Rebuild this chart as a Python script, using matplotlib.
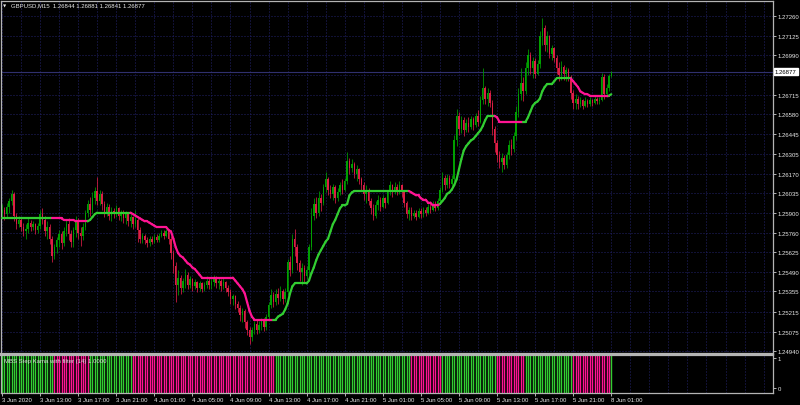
import matplotlib
matplotlib.use("Agg")
import matplotlib.pyplot as plt
import numpy as np
from matplotlib.collections import LineCollection

plt.rcParams['font.family'] = ['Liberation Sans', 'DejaVu Sans']

symbol_title = "GBPUSD,M15  1.26844 1.26881 1.26841 1.26877"
indicator_title = "MBS Step Kama with filter (14) 1.0000"
first_open = 1.2590
last_price = 1.26877

# M15 bars from 3 Jun 2020 09:00 to 8 Jun 01:00
close = [
    1.2592, 1.2589, 1.2594, 1.2598, 1.2603, 1.2588, 1.2582, 1.2585, 1.2580, 1.2577, 1.2579, 1.2583, 1.2580, 1.2582, 1.2578, 1.2581,
    1.2589, 1.2585, 1.2577, 1.2580, 1.2572, 1.2560, 1.2566, 1.2571, 1.2575, 1.2569, 1.2577, 1.2582, 1.2575, 1.2570, 1.2578, 1.2585,
    1.2576, 1.2574, 1.2580, 1.2590, 1.2596, 1.2592, 1.2600, 1.2605, 1.2598, 1.2603, 1.2596, 1.2590, 1.2594, 1.2588, 1.2591, 1.2589,
    1.2593, 1.2588, 1.2590, 1.2586, 1.2589, 1.2584, 1.2587, 1.2582, 1.2585, 1.2578, 1.2572, 1.2574, 1.2571, 1.2569, 1.2572, 1.2570,
    1.2573, 1.2571, 1.2574, 1.2576, 1.2574, 1.2577, 1.2572, 1.2562, 1.2553, 1.2540, 1.2545, 1.2538, 1.2543, 1.2547, 1.2540, 1.2544,
    1.2539, 1.2542, 1.2538, 1.2541, 1.2537, 1.2540, 1.2543, 1.2540, 1.2542, 1.2545, 1.2541, 1.2543, 1.2539, 1.2542, 1.2538, 1.2535,
    1.2530, 1.2532, 1.2527, 1.2524, 1.2519, 1.2522, 1.2514, 1.2509, 1.2504, 1.2509, 1.2513, 1.2509, 1.2512, 1.2515, 1.2511, 1.2518,
    1.2526, 1.2533, 1.2528, 1.2534, 1.2531, 1.2536, 1.2530, 1.2535, 1.2556, 1.2550, 1.2572, 1.2566, 1.2555, 1.2549, 1.2552, 1.2546,
    1.2550, 1.2566, 1.2588, 1.2596, 1.2590, 1.2600, 1.2597, 1.2608, 1.2613, 1.2606, 1.2603, 1.2608, 1.2600, 1.2604, 1.2609, 1.2606,
    1.2612, 1.2626, 1.2621, 1.2624, 1.2617, 1.2620, 1.2613, 1.2609, 1.2603, 1.2606, 1.2598, 1.2593, 1.2588, 1.2595, 1.2599, 1.2594,
    1.2600, 1.2597, 1.2604, 1.2609, 1.2604, 1.2608, 1.2605, 1.2609, 1.2604, 1.2597, 1.2589, 1.2592, 1.2588, 1.2590, 1.2587, 1.2591,
    1.2589, 1.2592, 1.2590, 1.2594, 1.2592, 1.2596, 1.2593, 1.2598, 1.2606, 1.2614, 1.2609, 1.2614, 1.2610, 1.2613, 1.2640, 1.2657,
    1.2648, 1.2654, 1.2647, 1.2652, 1.2649, 1.2655, 1.2651, 1.2657, 1.2653, 1.2668, 1.2676, 1.2669, 1.2673, 1.2666, 1.2648, 1.2638,
    1.2630, 1.2625, 1.2628, 1.2623, 1.2630, 1.2637, 1.2634, 1.2643, 1.2660, 1.2672, 1.2680, 1.2674, 1.2690, 1.2699, 1.2690, 1.2695,
    1.2686, 1.2693, 1.2712, 1.2718, 1.2706, 1.2712, 1.2700, 1.2704, 1.2697, 1.2690, 1.2685, 1.2691, 1.2686, 1.2689, 1.2684, 1.2673,
    1.2666, 1.2669, 1.2665, 1.2668, 1.2664, 1.2667, 1.2665, 1.2668, 1.2666, 1.2669, 1.2667, 1.2668, 1.2684, 1.2672, 1.2676, 1.26844,
    1.26877,
]
high = [
    1.2596, 1.2594, 1.2597, 1.2600, 1.2606, 1.2604, 1.2590, 1.2588, 1.2587, 1.2583, 1.2582, 1.2586, 1.2585, 1.2584, 1.2583, 1.2583,
    1.2592, 1.2593, 1.2588, 1.2584, 1.2582, 1.2574, 1.2568, 1.2573, 1.2578, 1.2577, 1.2580, 1.2585, 1.2586, 1.2578, 1.2580, 1.2588,
    1.2586, 1.2580, 1.2583, 1.2592, 1.2599, 1.2601, 1.2604, 1.2608, 1.2615, 1.2606, 1.2605, 1.2598, 1.2597, 1.2596, 1.2594, 1.2593,
    1.2595, 1.2594, 1.2592, 1.2592, 1.2591, 1.2590, 1.2589, 1.2588, 1.2592, 1.2586, 1.2580, 1.2576, 1.2575, 1.2573, 1.2574, 1.2574,
    1.2575, 1.2575, 1.2576, 1.2578, 1.2578, 1.2579, 1.2578, 1.2574, 1.2564, 1.2556, 1.2550, 1.2547, 1.2545, 1.2551, 1.2549, 1.2546,
    1.2545, 1.2544, 1.2543, 1.2543, 1.2542, 1.2542, 1.2546, 1.2545, 1.2544, 1.2547, 1.2546, 1.2545, 1.2544, 1.2545, 1.2543, 1.2540,
    1.2537, 1.2534, 1.2533, 1.2529, 1.2526, 1.2524, 1.2523, 1.2516, 1.2511, 1.2511, 1.2515, 1.2516, 1.2515, 1.2517, 1.2517, 1.2520,
    1.2528, 1.2537, 1.2535, 1.2537, 1.2538, 1.2539, 1.2537, 1.2538, 1.2558, 1.2560, 1.2575, 1.2579, 1.2568, 1.2557, 1.2555, 1.2554,
    1.2553, 1.2568, 1.2593, 1.2600, 1.2601, 1.2605, 1.2603, 1.2610, 1.2618, 1.2615, 1.2609, 1.2610, 1.2609, 1.2607, 1.2611, 1.2613,
    1.2614, 1.2632, 1.2628, 1.2627, 1.2625, 1.2623, 1.2621, 1.2615, 1.2611, 1.2609, 1.2607, 1.2600, 1.2596, 1.2598, 1.2602, 1.2601,
    1.2602, 1.2601, 1.2606, 1.2612, 1.2610, 1.2611, 1.2610, 1.2612, 1.2610, 1.2605, 1.2598, 1.2594, 1.2594, 1.2592, 1.2592, 1.2593,
    1.2593, 1.2594, 1.2594, 1.2596, 1.2597, 1.2598, 1.2598, 1.2600, 1.2608, 1.2618, 1.2616, 1.2617, 1.2616, 1.2616, 1.2644, 1.2662,
    1.2660, 1.2657, 1.2656, 1.2655, 1.2656, 1.2657, 1.2656, 1.2659, 1.2661, 1.2671, 1.2690, 1.2678, 1.2676, 1.2675, 1.2668, 1.2650,
    1.2640, 1.2633, 1.2631, 1.2630, 1.2632, 1.2640, 1.2641, 1.2646, 1.2664, 1.2676, 1.2690, 1.2684, 1.2694, 1.2703, 1.2701, 1.2698,
    1.2697, 1.2696, 1.2716, 1.2725, 1.2720, 1.2716, 1.2713, 1.2706, 1.2705, 1.2699, 1.2694, 1.2695, 1.2692, 1.2691, 1.2690, 1.2685,
    1.2675, 1.2672, 1.2671, 1.2670, 1.2669, 1.2670, 1.2669, 1.2670, 1.2669, 1.2671, 1.2670, 1.2670, 1.2687, 1.2686, 1.2679, 1.2686,
    1.26881,
]
low = [
    1.2586, 1.2585, 1.2587, 1.2590, 1.2595, 1.2584, 1.2579, 1.2580, 1.2577, 1.2574, 1.2572, 1.2576, 1.2577, 1.2578, 1.2575, 1.2576,
    1.2579, 1.2582, 1.2574, 1.2572, 1.2568, 1.2556, 1.2558, 1.2562, 1.2566, 1.2565, 1.2567, 1.2574, 1.2571, 1.2566, 1.2566, 1.2573,
    1.2572, 1.2567, 1.2571, 1.2578, 1.2587, 1.2588, 1.2590, 1.2596, 1.2595, 1.2595, 1.2592, 1.2587, 1.2588, 1.2585, 1.2584, 1.2586,
    1.2587, 1.2585, 1.2584, 1.2583, 1.2582, 1.2581, 1.2580, 1.2579, 1.2580, 1.2570, 1.2569, 1.2569, 1.2568, 1.2566, 1.2567, 1.2568,
    1.2569, 1.2570, 1.2570, 1.2573, 1.2572, 1.2573, 1.2568, 1.2558, 1.2548, 1.2528, 1.2533, 1.2534, 1.2535, 1.2538, 1.2537, 1.2538,
    1.2536, 1.2537, 1.2535, 1.2536, 1.2535, 1.2536, 1.2538, 1.2537, 1.2537, 1.2539, 1.2538, 1.2537, 1.2536, 1.2537, 1.2535, 1.2532,
    1.2527, 1.2526, 1.2523, 1.2521, 1.2515, 1.2514, 1.2510, 1.2505, 1.2499, 1.2501, 1.2506, 1.2506, 1.2507, 1.2509, 1.2508, 1.2509,
    1.2516, 1.2524, 1.2525, 1.2526, 1.2527, 1.2529, 1.2527, 1.2528, 1.2533, 1.2546, 1.2548, 1.2560, 1.2550, 1.2543, 1.2540, 1.2541,
    1.2544, 1.2547, 1.2564, 1.2585, 1.2586, 1.2588, 1.2591, 1.2595, 1.2604, 1.2602, 1.2600, 1.2599, 1.2597, 1.2598, 1.2602, 1.2603,
    1.2605, 1.2610, 1.2617, 1.2618, 1.2614, 1.2612, 1.2610, 1.2606, 1.2599, 1.2597, 1.2595, 1.2589, 1.2585, 1.2586, 1.2592, 1.2591,
    1.2593, 1.2593, 1.2596, 1.2602, 1.2601, 1.2603, 1.2602, 1.2603, 1.2601, 1.2594, 1.2586, 1.2585, 1.2585, 1.2586, 1.2585, 1.2586,
    1.2586, 1.2587, 1.2588, 1.2589, 1.2590, 1.2591, 1.2591, 1.2592, 1.2596, 1.2604, 1.2606, 1.2607, 1.2607, 1.2608, 1.2611, 1.2636,
    1.2644, 1.2645, 1.2643, 1.2646, 1.2646, 1.2648, 1.2647, 1.2649, 1.2650, 1.2652, 1.2665, 1.2665, 1.2664, 1.2663, 1.2644, 1.2632,
    1.2625, 1.2621, 1.2618, 1.2620, 1.2621, 1.2627, 1.2630, 1.2632, 1.2640, 1.2656, 1.2668, 1.2667, 1.2672, 1.2685, 1.2686, 1.2683,
    1.2683, 1.2685, 1.2690, 1.2706, 1.2702, 1.2701, 1.2697, 1.2696, 1.2694, 1.2686, 1.2681, 1.2682, 1.2682, 1.2681, 1.2681, 1.2669,
    1.2662, 1.2662, 1.2662, 1.2663, 1.2662, 1.2663, 1.2663, 1.2664, 1.2664, 1.2665, 1.2665, 1.2665, 1.2667, 1.2669, 1.2670, 1.2674,
    1.26841,
]
kama = [
    1.2586, 1.2586, 1.2586, 1.2586, 1.2586, 1.2586, 1.2586, 1.2586, 1.2586, 1.2586, 1.2586, 1.2586, 1.2586, 1.2586, 1.2586, 1.2586,
    1.2586, 1.2586, 1.2586, 1.2586, 1.2586, 1.2586, 1.2586, 1.2586, 1.2586, 1.2586, 1.2585, 1.2585, 1.2585, 1.2585, 1.2585, 1.2584,
    1.2584, 1.2584, 1.2584, 1.2584, 1.2584, 1.2585, 1.2587, 1.2589, 1.2590, 1.2590, 1.2590, 1.2590, 1.2590, 1.2590, 1.2590, 1.2590,
    1.2590, 1.2590, 1.2590, 1.2590, 1.2590, 1.2590, 1.2590, 1.2589, 1.2588, 1.2587, 1.2586, 1.2585, 1.2584, 1.2584, 1.2583, 1.2582,
    1.2581, 1.2580, 1.2580, 1.2580, 1.2580, 1.2580, 1.2578, 1.2577, 1.2572, 1.2566, 1.2562, 1.2560, 1.2559, 1.2557, 1.2555, 1.2554,
    1.2552, 1.2551, 1.2549, 1.2547, 1.2545, 1.2545, 1.2545, 1.2545, 1.2545, 1.2545, 1.2545, 1.2545, 1.2545, 1.2545, 1.2545, 1.2545,
    1.2545, 1.2545, 1.2543, 1.2541, 1.2539, 1.2537, 1.2534, 1.2528, 1.2522, 1.2518, 1.2516, 1.2516, 1.2516, 1.2516, 1.2516, 1.2516,
    1.2516, 1.2516, 1.2516, 1.2516, 1.2518, 1.2519, 1.2520, 1.2523, 1.2527, 1.2534, 1.2539, 1.2541, 1.2541, 1.2541, 1.2541, 1.2541,
    1.2541, 1.2543, 1.2548, 1.2552, 1.2557, 1.2561, 1.2564, 1.2567, 1.2570, 1.2572, 1.2577, 1.2582, 1.2585, 1.2589, 1.2593, 1.2595,
    1.2595, 1.2596, 1.2602, 1.2604, 1.2605, 1.2605, 1.2605, 1.2605, 1.2605, 1.2605, 1.2605, 1.2605, 1.2605, 1.2605, 1.2605, 1.2605,
    1.2605, 1.2605, 1.2605, 1.2605, 1.2605, 1.2605, 1.2605, 1.2605, 1.2605, 1.2605, 1.2605, 1.2605, 1.2604, 1.2603, 1.2602, 1.2602,
    1.2600, 1.2599, 1.2599, 1.2597, 1.2597, 1.2595, 1.2595, 1.2595, 1.2596, 1.2598, 1.2600, 1.2603, 1.2604, 1.2606, 1.2609, 1.2613,
    1.2620, 1.2627, 1.2633, 1.2636, 1.2638, 1.2640, 1.2641, 1.2643, 1.2645, 1.2647, 1.2650, 1.2654, 1.2657, 1.2657, 1.2657, 1.2657,
    1.2656, 1.2653, 1.2653, 1.2653, 1.2653, 1.2653, 1.2653, 1.2653, 1.2653, 1.2653, 1.2653, 1.2653, 1.2653, 1.2656, 1.2660, 1.2664,
    1.2666, 1.2667, 1.2669, 1.2674, 1.2677, 1.2679, 1.2679, 1.2679, 1.2681, 1.2683, 1.2683, 1.2683, 1.2683, 1.2683, 1.2683, 1.2683,
    1.2681, 1.2679, 1.2677, 1.2674, 1.2673, 1.2672, 1.2672, 1.2671, 1.2671, 1.2671, 1.2671, 1.2671, 1.2671, 1.2671, 1.2671, 1.2671,
    1.2672,
]
# runs of the indicator state: (direction, number of bars)
trend_runs = [('up', 22), ('down', 15), ('up', 18), ('down', 60), ('up', 57), ('down', 13),
              ('up', 23), ('down', 12), ('up', 20), ('down', 16), ('up', 1)]

time_tick_bars = [0, 16, 32, 48, 64, 80, 96, 112, 128, 144, 160, 176, 192, 208, 224, 240, 256]
time_labels = ["3 Jun 2020", "3 Jun 13:00", "3 Jun 17:00", "3 Jun 21:00", "4 Jun 01:00", "4 Jun 05:00",
               "4 Jun 09:00", "4 Jun 13:00", "4 Jun 17:00", "4 Jun 21:00", "5 Jun 01:00", "5 Jun 05:00",
               "5 Jun 09:00", "5 Jun 13:00", "5 Jun 17:00", "5 Jun 21:00", "8 Jun 01:00"]
price_ticks = [1.24940, 1.25075, 1.25215, 1.25355, 1.25490, 1.25625, 1.25760, 1.25900, 1.26035,
               1.26170, 1.26305, 1.26445, 1.26580, 1.26715, 1.26850, 1.26990, 1.27125, 1.27260]
price_tick_labels = ["1.24940", "1.25075", "1.25215", "1.25355", "1.25490", "1.25625", "1.25760",
                     "1.25900", "1.26035", "1.26170", "1.26305", "1.26445", "1.26580", "1.26715",
                     "", "1.26990", "1.27125", "1.27260"]

n = len(close)
assert len(high) == n and len(low) == n and len(kama) == n, (len(high), len(low), len(kama))
assert sum(r[1] for r in trend_runs) == n

# ---- colours ----
BG = 'black'
BULL = '#00a000'
BEAR = '#dc1e46'
UPC = '#32cd32'
DNC = '#ff1493'
GRID = '#22226a'
SPINE = '#b4b4b4'
TXT = '#e8e8e8'
FS = 4.3

W, H = 800, 406
fig = plt.figure(figsize=(W / 100, H / 100), dpi=100, facecolor=BG)

def fx(px):
    return px / W

def fy(py):
    return 1 - py / H

ax = fig.add_axes([fx(1), fy(355), fx(772), (355 - 2) / H], facecolor=BG)
ax2 = fig.add_axes([fx(1), fy(393.5), fx(772), (393.5 - 356) / H], facecolor=BG)

bar_px = 2.38
x_left = (1 - 2) / bar_px
x_right = (773 - 2) / bar_px

idx = np.arange(n)
c = np.array(close)
o = np.concatenate([[first_open], c[:-1]])
hi = np.array(high)
lo = np.array(low)
is_up = c >= o
ccol = np.where(is_up, BULL, BEAR)

# grid
grid_bars = np.arange(0, x_right, 8)
for a in (ax, ax2):
    for g in grid_bars:
        a.axvline(g, color=GRID, lw=0.72, ls=(0, (1, 2)), zorder=0)
for p in price_ticks:
    ax.axhline(p, color=GRID, lw=0.72, ls=(0, (1, 2)), zorder=0)

# current price line
ax.axhline(last_price, color='#30306e', lw=0.8, zorder=0.5)

# candles
ax.vlines(idx, lo, hi, colors=ccol, lw=0.55, zorder=2)
body = np.maximum(np.abs(c - o), 0.00002)
ax.bar(idx, body, bottom=np.minimum(o, c), width=0.62, color=ccol, lw=0, zorder=2)

# state per bar
state = []
for d, k in trend_runs:
    state += [d] * k
state = np.array(state)

# kama line
pts = np.column_stack([idx, kama])
segs = [[pts[i - 1], pts[i]] for i in range(1, n)]
segcol = [UPC if state[i] == 'up' else DNC for i in range(1, n)]
lc = LineCollection(segs, colors=segcol, linewidths=1.6, capstyle='round', zorder=3)
ax.add_collection(lc)

# indicator histogram
hcol = [UPC if s == 'up' else DNC for s in state]
ax2.vlines(idx, 0, 1, transform=ax2.get_xaxis_transform(), colors=hcol, lw=1.0, zorder=1)

# limits
ax.set_xlim(x_left, x_right)
ax2.set_xlim(x_left, x_right)
ppx = 0.00006925
ax.set_ylim(1.2494 - (355 - 352.3) * ppx, 1.2494 + (352.3 - 2) * ppx)
ax2.set_ylim(-(393.5 - 389.3) / 30, 1 + (359.3 - 356) / 30)

# spines
for a in (ax, ax2):
    for s in a.spines.values():
        s.set_color(SPINE)
        s.set_linewidth(0.9)
ax.spines['bottom'].set_linewidth(1.6)
ax2.spines['top'].set_linewidth(1.6)

# axes ticks
ax.set_xticks([])
ax.yaxis.tick_right()
ax.set_yticks(price_ticks)
ax.set_yticklabels(price_tick_labels)
ax.tick_params(axis='y', colors=SPINE, labelcolor=TXT, labelsize=FS, length=2.2, width=0.7, pad=1.2)

ax2.yaxis.tick_right()
ax2.set_yticks([0, 1])
ax2.set_yticklabels(["0", "1"])
ax2.tick_params(axis='y', colors=SPINE, labelcolor=TXT, labelsize=FS, length=2.2, width=0.7, pad=1.2)
ax2.set_xticks(time_tick_bars)
ax2.set_xticklabels(time_labels, ha='left')
ax2.tick_params(axis='x', colors=SPINE, labelcolor=TXT, labelsize=FS, length=2.5, width=0.7, pad=0.8)

# current price box
ax.text(1 + 2 / 772, last_price, "%.5f" % last_price, transform=ax.get_yaxis_transform(),
        ha='left', va='center', fontsize=FS, color='black', clip_on=False, zorder=10,
        bbox=dict(boxstyle='square,pad=0.2', facecolor='white', edgecolor='white'))

# titles
fig.text(fx(3), fy(6), "\u25BC", fontsize=3.0, color=TXT, va='center', ha='left', family='DejaVu Sans')
fig.text(fx(11), fy(6), symbol_title, fontsize=FS, color=TXT, va='center', ha='left')
fig.text(fx(4), fy(361.5), indicator_title, fontsize=FS, color='#d8d8d8', va='center', ha='left', zorder=5)

fig.savefig("out.png", dpi=100, facecolor=BG)
